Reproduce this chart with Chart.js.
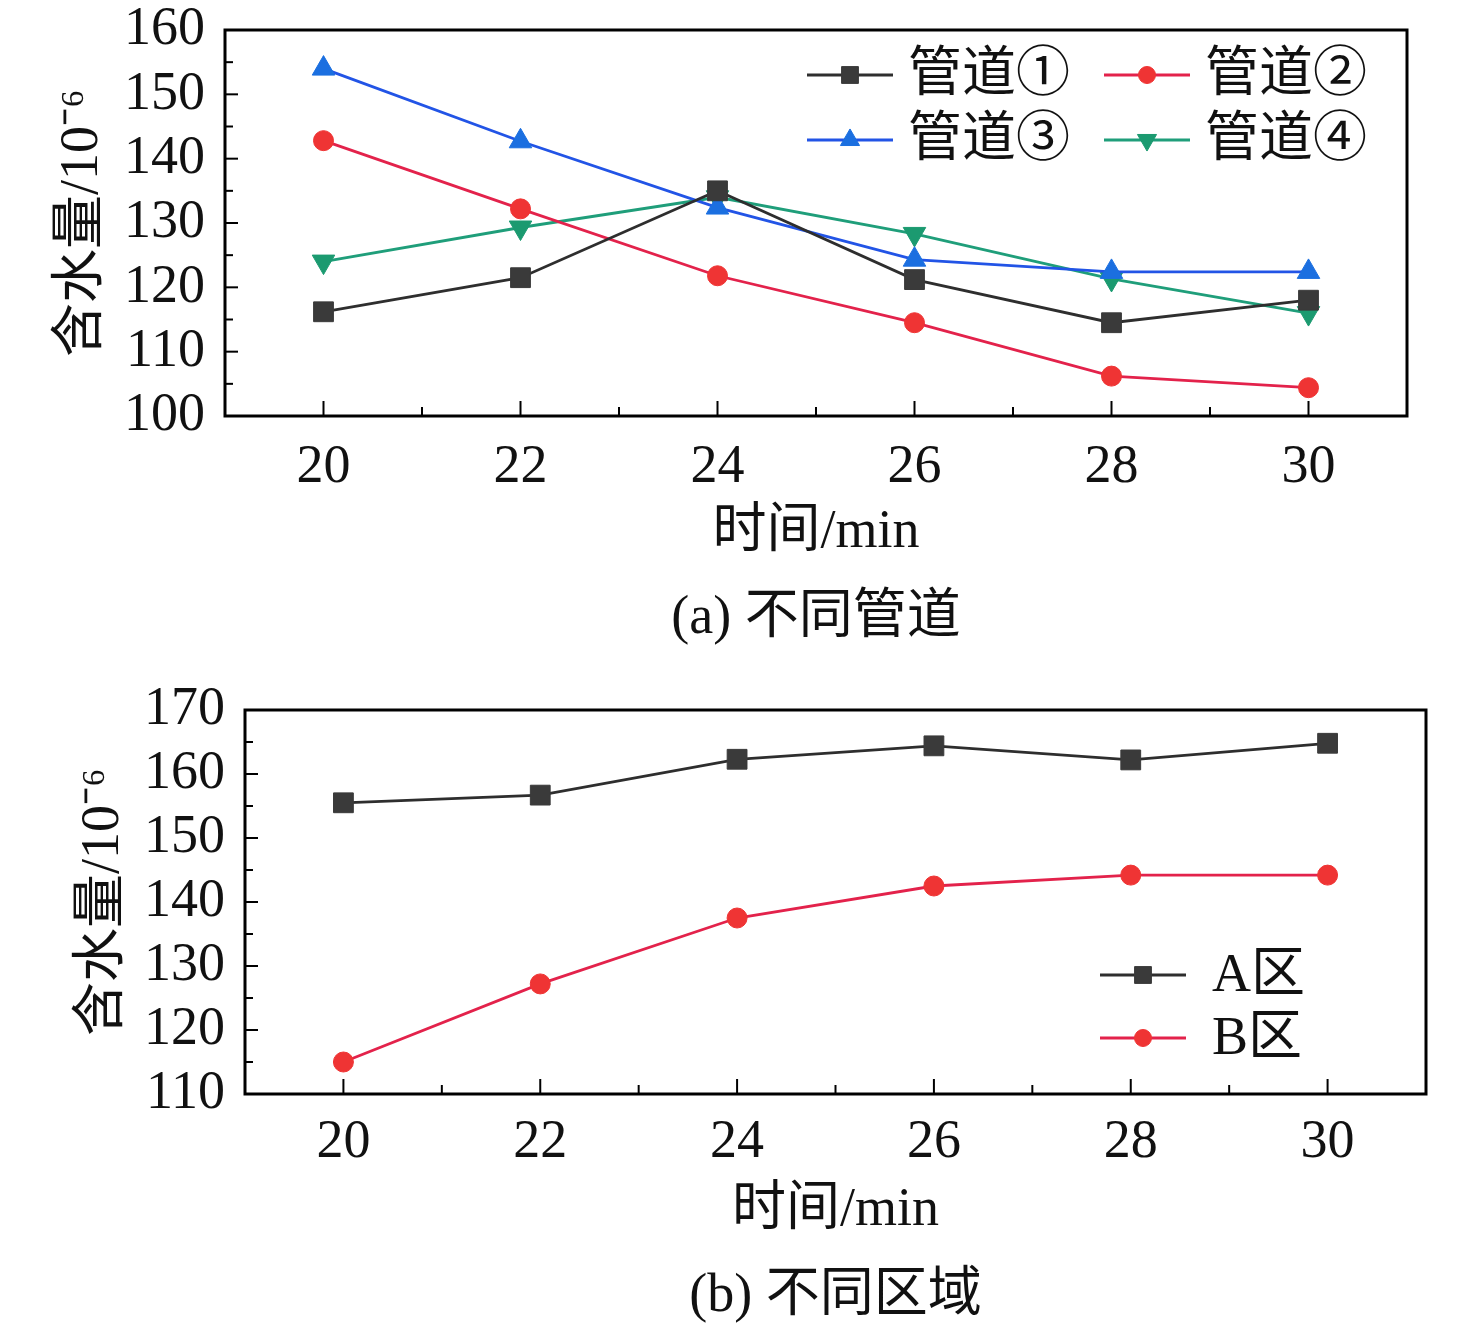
<!DOCTYPE html>
<html>
<head>
<meta charset="utf-8">
<script src="https://cdn.jsdelivr.net/npm/chart.js@4.4.1/dist/chart.umd.min.js"></script>
<style>
  body { margin: 0; background: #fff; width: 1476px; height: 1328px; position: relative; overflow: hidden; }
  canvas { position: absolute; left: 0; }
  #c1 { top: 0; }
  #c2 { top: 640px; }
  .caption { position: absolute; font: 54px 'Liberation Serif', 'Noto Sans CJK SC', serif; color: #111; text-align: center; }
  #capA { left: 225px; width: 1182px; top: 570px; }
  #capB { left: 245px; width: 1181px; top: 1248px; }
</style>
</head>
<body>
<canvas id="c1" width="1476" height="565"></canvas>
<canvas id="c2" width="1476" height="610"></canvas>
<div class="caption" id="capA">(a) 不同管道</div>
<div class="caption" id="capB">(b) 不同区域</div>
<script>
// 时间 (min)
const times = [20, 22, 24, 26, 28, 30];
const xTicks = [20, 22, 24, 26, 28, 30];

// (a) 不同管道
const pipe1 = [116.2, 121.5, 135.0, 121.2, 114.5, 118.0];
const pipe2 = [142.8, 132.2, 121.8, 114.5, 106.2, 104.4];
const pipe3 = [154.0, 142.7, 132.4, 124.3, 122.4, 122.4];
const pipe4 = [124.0, 129.3, 134.0, 128.3, 121.3, 116.0];
const yTicksA = [100, 110, 120, 130, 140, 150, 160];

// (b) 不同区域
const zoneA = [155.5, 156.7, 162.3, 164.4, 162.2, 164.8];
const zoneB = [115.0, 127.2, 137.5, 142.5, 144.2, 144.2];
const yTicksB = [110, 120, 130, 140, 150, 160, 170];

const FONT = "'Liberation Serif', 'Noto Sans CJK SC', serif";
Chart.defaults.font.family = FONT;
Chart.defaults.font.size = 54;
Chart.defaults.color = '#111';

function toPoints(arr) {
    return arr.map((v, i) => ({ x: times[i], y: v }));
}

function serie(label, values, line, fill, style, radius, rotation) {
    return {
        label: label,
        data: toPoints(values),
        borderColor: line,
        backgroundColor: fill,
        borderWidth: 2.8,
        pointStyle: style,
        pointRadius: radius,
        pointRotation: rotation || 0,
        pointBackgroundColor: fill,
        pointBorderColor: fill,
        pointBorderWidth: 1,
        tension: 0
    };
}

// marco, ticks hacia dentro y leyenda dentro del area
const framePlugin = {
    id: 'frame',
    afterDatasetsDraw(chart, args, opts) {
        const ctx = chart.ctx;
        const a = chart.chartArea;
        const xs = chart.scales.x, ys = chart.scales.y;
        ctx.save();
        ctx.strokeStyle = '#000';
        ctx.lineWidth = 2;
        // ticks x: mayores cada 2, menores cada 1
        for (let v = Math.ceil(xs.min); v <= xs.max; v++) {
            const px = xs.getPixelForValue(v);
            if (px <= a.left + 1 || px >= a.right - 1) continue;
            const len = (v % 2 === 0) ? 15 : 9;
            ctx.beginPath();
            ctx.moveTo(px, a.bottom);
            ctx.lineTo(px, a.bottom - len);
            ctx.stroke();
        }
        // ticks y: mayores cada 10, menores cada 5
        for (let v = ys.min; v <= ys.max; v += 5) {
            const py = ys.getPixelForValue(v);
            if (py <= a.top + 1 || py >= a.bottom - 1) continue;
            const len = (v % 10 === 0) ? 13 : 8;
            ctx.beginPath();
            ctx.moveTo(a.left, py);
            ctx.lineTo(a.left + len, py);
            ctx.stroke();
        }
        ctx.lineWidth = 3;
        ctx.strokeRect(a.left, a.top, a.right - a.left, a.bottom - a.top);

        // leyenda
        (opts.items || []).forEach((it, i) => {
            const ds = chart.data.datasets[i];
            ctx.strokeStyle = ds.borderColor;
            ctx.lineWidth = 2.8;
            ctx.beginPath();
            ctx.moveTo(it.x, it.y);
            ctx.lineTo(it.x + opts.lineLen, it.y);
            ctx.stroke();
            ctx.fillStyle = ds.pointBackgroundColor;
            ctx.strokeStyle = ds.pointBorderColor;
            ctx.lineWidth = 1;
            Chart.helpers.drawPoint(ctx, {
                pointStyle: ds.pointStyle,
                radius: ds.pointRadius * 0.85,
                rotation: ds.pointRotation,
                borderWidth: 1
            }, it.x + opts.lineLen / 2, it.y);
            ctx.fillStyle = '#111';
            ctx.font = '54px ' + FONT;
            ctx.textAlign = 'left';
            ctx.textBaseline = 'middle';
            ctx.fillText(ds.label, it.x + opts.textDx, it.y + 2);
        });
        ctx.restore();
    }
};

function makeChart(id, datasets, yTicks, dims, legend) {
    new Chart(document.getElementById(id), {
        type: 'line',
        data: { datasets: datasets },
        plugins: [framePlugin],
        options: {
            responsive: false,
            animation: false,
            layout: { padding: { top: dims.top, right: dims.right, left: 0, bottom: 0 } },
            plugins: {
                legend: { display: false },
                tooltip: { enabled: false },
                frame: legend
            },
            scales: {
                x: {
                    type: 'linear',
                    min: 19,
                    max: 31,
                    afterBuildTicks: s => { s.ticks = xTicks.map(v => ({ value: v })); },
                    afterFit: s => { s.height = dims.xh; s.paddingLeft = 0; s.paddingRight = 0; },
                    grid: { display: false },
                    border: { display: false },
                    ticks: { padding: dims.xtk, maxRotation: 0, autoSkip: false },
                    title: { display: true, text: '时间/min', padding: { top: 0, bottom: dims.xtPad } }
                },
                y: {
                    min: yTicks[0],
                    max: yTicks[yTicks.length - 1],
                    afterBuildTicks: s => { s.ticks = yTicks.map(v => ({ value: v })); },
                    afterFit: s => { s.width = dims.yw; s.paddingTop = 0; s.paddingBottom = 0; },
                    grid: { display: false },
                    border: { display: false },
                    ticks: { padding: 12, autoSkip: false },
                    title: { display: true, text: '含水量/10⁻⁶', padding: { top: dims.ytPad, bottom: 0 } }
                }
            }
        }
    });
}

makeChart('c1', [
    serie('管道①', pipe1, '#2e2e2e', '#3a3a3a', 'rect', 14),
    serie('管道②', pipe2, '#e3224b', '#ef3434', 'circle', 10),
    serie('管道③', pipe3, '#2254e6', '#1b6fe0', 'triangle', 13),
    serie('管道④', pipe4, '#1f9e7a', '#1b9a70', 'triangle', 13, 180)
], yTicksA, { top: 30, right: 69, yw: 225, xh: 149, xtk: 11, xtPad: 0, ytPad: 50 }, {
    lineLen: 86, textDx: 101,
    items: [{ x: 807, y: 75 }, { x: 1104, y: 75 }, { x: 807, y: 140 }, { x: 1104, y: 140 }]
});

makeChart('c2', [
    serie('A区', zoneA, '#2e2e2e', '#3a3a3a', 'rect', 14),
    serie('B区', zoneB, '#e3224b', '#ef3434', 'circle', 10)
], yTicksB, { top: 70, right: 50, yw: 245, xh: 156, xtk: 8, xtPad: 7, ytPad: 71 }, {
    lineLen: 86, textDx: 112,
    items: [{ x: 1100, y: 335 }, { x: 1100, y: 398 }]
});
</script>
</body>
</html>
